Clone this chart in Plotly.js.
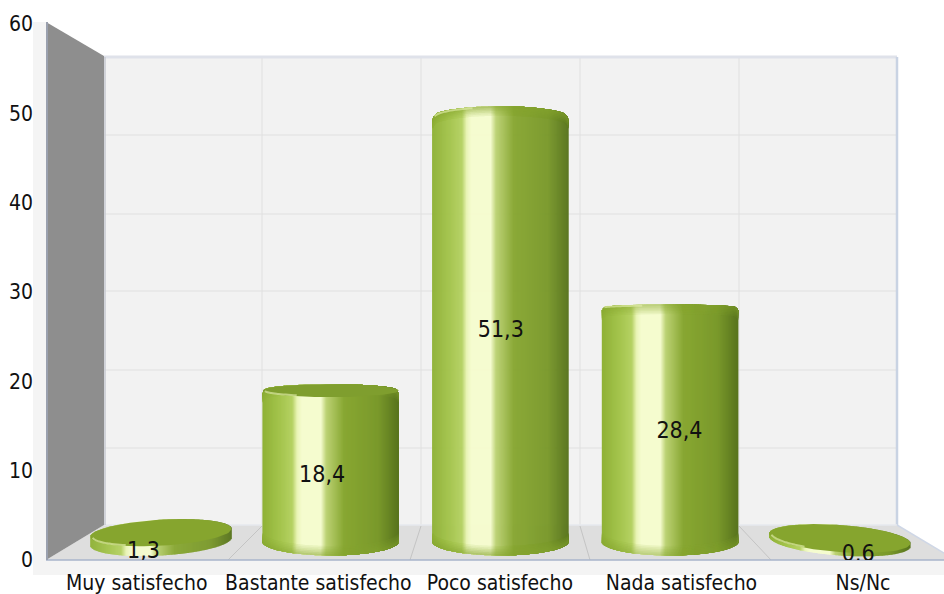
<!DOCTYPE html>
<html>
<head>
<meta charset="utf-8">
<script src="https://cdn.plot.ly/plotly-3.0.1.min.js"></script>
<style>html,body{margin:0;padding:0;background:#fff}#chart{width:944px;height:594px}</style>
</head>
<body>
<div id="chart"></div>
<script>
const categories = ["Muy satisfecho", "Bastante satisfecho", "Poco satisfecho", "Nada satisfecho", "Ns/Nc"];
const values = [1.3, 18.4, 51.3, 28.4, 0.6];
const valueLabels = ["1,3", "18,4", "51,3", "28,4", "0,6"];
const yTicks = [0, 10, 20, 30, 40, 50, 60];

// cylinder look
const halfWidthPx = [70.5, 68, 68, 68, 70.5];
const topRyPx = [13, 6.5, 11, 3, 13.5];
const baseRyPx = [14, 14, 14, 14, 14];
const tiltPx = [-4, 0, 0, 0, 5];
const topFill = ["#86a52e", "#7f9e2e", null, null, "#86a52e"];
const rounded = [false, true, true, true, false];
const stops = [[0,"#8fb136"],[0.14,"#a6c64f"],[0.22,"#b5d163"],[0.255,"#eaf5b6"],[0.29,"#f5fccf"],[0.43,"#f5fccf"],[0.47,"#bcd274"],[0.6,"#88a732"],[0.85,"#7a992b"],[1,"#58741d"]];

const W = 944, H = 594, L = 46, T = 24, B = 560;
const pxPerCat = 169.7, firstCx = 161;
const pxPerUnit = 8.31, basePx = 543.5, baseLift = 2;

function hex(c){return [1,3,5].map(i=>parseInt(c.substr(i,2),16));}
function gradRGB(t){
  for(let i=1;i<stops.length;i++){
    if(t<=stops[i][0]){
      const a=stops[i-1],b=stops[i],f=(t-a[0])/(b[0]-a[0]||1);
      const A=hex(a[1]),C=hex(b[1]);
      return A.map((v,k)=>v+(C[k]-v)*f);
    }
  }
  return hex(stops[stops.length-1][1]);
}
function css(c){return 'rgb('+c.map(Math.round).join(',')+')';}
function mix(c,other,f){const o=hex(other);return c.map((v,k)=>v+(o[k]-v)*f);}

// bar strips: each cylinder is drawn as narrow bars on the hidden axes
const sx=[],sy=[],sb=[],sc=[],sw=[];
function strip(x,lo,hi,color){sx.push(x);sb.push(lo);sy.push(hi-lo);sc.push(color);sw.push(1.6/pxPerCat);}
values.forEach((v,i)=>{
  const rx=halfWidthPx[i], rim=[];
  for(let p=-rx;p<rx;p+=1){
    const t=(p+0.5)/rx, e=Math.sqrt(Math.max(0,1-t*t));
    const tilt=tiltPx[i]*t/pxPerUnit;
    const x=i+(p+0.5)/pxPerCat;
    const low=(baseLift-baseRyPx[i]*e)/pxPerUnit-tilt;
    let high=v+topRyPx[i]*e/pxPerUnit-tilt;
    const d=rx-Math.abs(p+0.5), r=5;
    if(rounded[i]&&d<r) high-=(r-Math.sqrt(r*r-(r-d)*(r-d)))/pxPerUnit;
    const c=gradRGB((t+1)/2);
    strip(x,low,high,css(c));
    if(rounded[i]) rim.push([x,low,high,c]);
  }
  // soft rims at the foot and head of the tall cylinders, fading inward
  const steps=6, stepPx=1.6;
  rim.forEach(s=>{
    for(let k=steps-1;k>=0;k--){
      const f=0.62*(steps-k)/steps;
      const h=(k+1)*stepPx/pxPerUnit;
      strip(s[0],s[1],s[1]+h,css(mix(s[3],'#84a42f',f)));
      strip(s[0],s[2]-h,s[2],css(mix(s[3],'#85a42e',f)));
    }
  });
});
const traces=[{type:'bar',x:sx,y:sy,base:sb,width:sw,marker:{color:sc,line:{width:0}},hoverinfo:'skip',showlegend:false,xaxis:'x',yaxis:'y'}];

// top faces and rim highlights
values.forEach((v,i)=>{
  const rx=halfWidthPx[i],ry=topRyPx[i],ex=[],ey=[];
  for(let d=0;d<=360;d+=4){
    const a=d*Math.PI/180,c=Math.cos(a),s=Math.sin(a);
    ex.push(i+rx*c/pxPerCat);
    ey.push(v+ry*s/pxPerUnit-tiltPx[i]*c/pxPerUnit);
  }
  if(topFill[i]) traces.push({type:'scatter',mode:'lines',x:ex,y:ey,fill:'toself',fillcolor:topFill[i],line:{width:0,color:topFill[i]},hoverinfo:'skip',showlegend:false,xaxis:'x',yaxis:'y'});
  const ax=[],ay=[],upper=!topFill[i];
  for(let d=175;d>=(upper?115:120);d-=3){
    const a=d*Math.PI/180,c=Math.cos(a),s=Math.sin(a)*(upper?1:-1);
    ax.push(i+(rx-2)*c/pxPerCat);
    ay.push(v+(ry-1)*s/pxPerUnit-tiltPx[i]*c/pxPerUnit);
  }
  traces.push({type:'scatter',mode:'lines',x:ax,y:ay,line:{width:2,color:'rgba(226,238,170,0.65)',shape:'spline'},hoverinfo:'skip',showlegend:false,xaxis:'x',yaxis:'y'});
});

// value labels and visible axes on the overlay axes
traces.push({
  type:'scatter',mode:'text',
  x:values.map((v,i)=>2.005+(i-2)*0.984),
  y:values.map(v=>v*0.495+0.25),
  text:valueLabels,textposition:'middle center',
  textfont:{family:'"DejaVu Sans Condensed","DejaVu Sans",sans-serif',size:23,color:'#111'},
  hoverinfo:'skip',showlegend:false,xaxis:'x2',yaxis:'y2'
});

const px=x=>(x-L)/(W-L), py=y=>(B-y)/(B-T);
const poly=(pts,fill,line,lw)=>({type:'path',xref:'paper',yref:'paper',layer:'below',
  path:'M'+pts.map(p=>px(p[0])+','+py(p[1])).join(' L')+' Z',fillcolor:fill,line:{width:lw||0,color:line||fill}});
const seg=(a,b,color,w)=>({type:'line',xref:'paper',yref:'paper',layer:'below',x0:px(a[0]),y0:py(a[1]),x1:px(b[0]),y1:py(b[1]),line:{color:color,width:w}});

const shapes=[
  poly([[33,22],[46,22],[46,560],[944,560],[944,575],[33,575]],'#f4f4f4'),
  poly([[104,57],[897,57],[897,525],[104,525]],'#f2f2f2'),
  poly([[46,560],[104,525],[897,525],[944,553],[944,560]],'#dedede'),
  poly([[46,22],[104,56],[104,525],[46,560]],'#8e8e8e')
];
[135,214,291,370,448].forEach(y=>shapes.push(seg([104,y],[897,y],'#e0e0e0',1)));
[262,421,580,739].forEach(x=>shapes.push(seg([x,57],[x,525],'#e0e0e0',1)));
[[262,228],[421,410],[580,590],[739,771]].forEach(d=>shapes.push(seg([d[0],526],[d[1],560],'#c4c4c4',1)));
shapes.push(seg([104,57],[897,57],'#dfe2ea',3));
shapes.push(seg([897,57],[897,525],'#c9d3e3',2.5));
shapes.push(seg([104,525],[897,525],'#e6e8ee',1.5));
shapes.push(seg([897,525],[944,553],'#cfd7e6',1.5));
shapes.push(seg([46,560],[944,560],'#a9b4cb',1.5));
shapes.push(seg([47,22],[47,560],'#9aa0ae',2));
shapes.push(seg([105,57],[105,525],'#c6c9d0',1.5));

const tickFont={family:'"DejaVu Sans Condensed","DejaVu Sans",sans-serif',size:21,color:'#111'};
const layout={
  width:W,height:H,margin:{l:L,r:0,t:T,b:H-B,pad:0},
  paper_bgcolor:'#fff',plot_bgcolor:'rgba(0,0,0,0)',showlegend:false,barmode:'overlay',
  xaxis:{visible:false,range:[(L-firstCx)/pxPerCat,(W-firstCx)/pxPerCat],fixedrange:true},
  yaxis:{visible:false,range:[(basePx-B)/pxPerUnit,(basePx-T)/pxPerUnit],fixedrange:true},
  xaxis2:{overlaying:'x',side:'bottom',range:[-0.5,4.446],tickmode:'array',tickvals:categories.map((c,i)=>i),ticktext:categories,
    showgrid:false,zeroline:false,showline:false,ticks:'',tickfont:tickFont,ticklabelstandoff:8,tickangle:0,fixedrange:true},
  yaxis2:{overlaying:'y',side:'left',range:[0,60],tickmode:'array',tickvals:yTicks,ticktext:yTicks.map(String),
    showgrid:false,zeroline:false,showline:false,ticks:'',tickfont:tickFont,ticklabelstandoff:12,fixedrange:true},
  shapes:shapes
};
Plotly.newPlot('chart',traces,layout,{displayModeBar:false,staticPlot:true});
</script>
</body>
</html>
